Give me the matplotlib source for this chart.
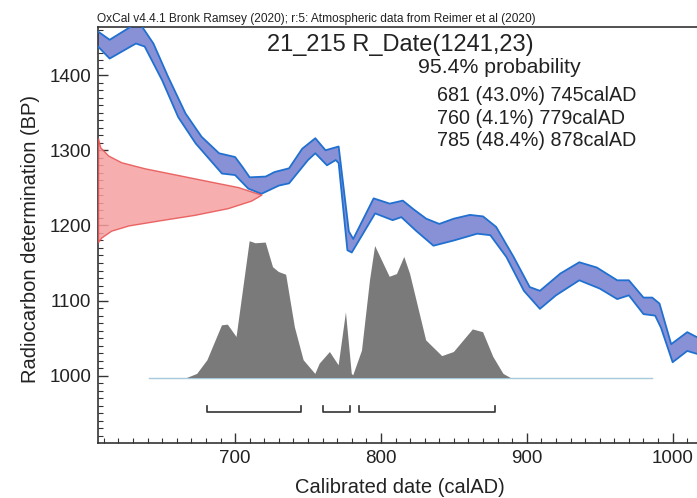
import matplotlib
matplotlib.use('Agg')
import matplotlib.pyplot as plt
from matplotlib.ticker import MultipleLocator
import numpy as np

plt.rcParams['font.family'] = ['Liberation Sans', 'DejaVu Sans']

# calibration curve band (upper / lower edge)
cal_up_year = [606, 614, 629, 636, 644, 654, 666, 677, 689, 700, 705, 710, 721, 727, 737, 746, 755, 762,
               771, 778, 781, 795, 806, 815, 822, 831, 840, 850, 861, 870, 879, 891, 902, 909, 923, 936,
               948, 962, 970, 980, 986, 991, 999, 1010, 1017]
cal_up_bp = [1458, 1447, 1465, 1465, 1442, 1398, 1349, 1318, 1296, 1291, 1278, 1264, 1265, 1271, 1276, 1302, 1316, 1300,
             1305, 1192, 1182, 1236, 1229, 1233, 1222, 1209, 1202, 1209, 1214, 1212, 1198, 1158, 1118, 1113, 1136, 1151,
             1144, 1127, 1127, 1104, 1104, 1096, 1042, 1058, 1051]
cal_lo_year = [606, 614, 632, 638, 650, 661, 673, 691, 700, 709, 718, 730, 737, 750, 755, 763, 769, 771,
               777, 780, 796, 808, 814, 824, 836, 850, 866, 875, 886, 898, 909, 920, 936, 950, 962, 970,
               980, 988, 992, 1000, 1010, 1017]
cal_lo_bp = [1438, 1422, 1442, 1438, 1393, 1344, 1309, 1269, 1267, 1249, 1242, 1253, 1256, 1287, 1296, 1280, 1287, 1283,
             1167, 1164, 1216, 1207, 1211, 1193, 1173, 1180, 1189, 1187, 1158, 1113, 1089, 1107, 1127, 1116, 1102, 1107,
             1082, 1080, 1064, 1018, 1033, 1029]

# radiocarbon date R_Date(1241,23): BP and width of distribution (years)
date_bp = [1316, 1304, 1293, 1284, 1276, 1267, 1258, 1251, 1244, 1241, 1233, 1223, 1214, 1207, 1200, 1193, 1184, 1178]
date_w = [0, 1.5, 7, 16, 32, 55, 78, 96, 107, 112, 105, 89, 66, 43, 21, 9, 2.3, 0]

# calibrated probability (relative)
post_year = [641, 667, 674, 681, 691, 695, 701, 710, 714, 721, 726, 730, 735, 741, 747, 755, 758, 765, 771,
             776, 780, 781, 787, 792.5, 796, 806, 811, 816, 820, 831, 842, 850, 863, 870, 877, 884, 889, 986]
post_p = [0, 0, 0.03, 0.13, 0.385, 0.39, 0.30, 1.0, 0.985, 0.99, 0.81, 0.775, 0.755, 0.37, 0.13, 0.03, 0.105, 0.19, 0.093,
          0.48, 0.03, 0.02, 0.2, 0.715, 0.965, 0.74, 0.76, 0.885, 0.76, 0.275, 0.16, 0.19, 0.355, 0.335, 0.155, 0.03, 0, 0]

# 95.4% ranges
ranges = [(681, 745), (760, 779), (785, 878)]
range_pct = ['43.0%', '4.1%', '48.4%']

fig = plt.figure(figsize=(6.97, 4.98), dpi=100, facecolor='white')
ax = fig.add_axes([0.1406, 0.1104, 0.8594, 0.8354])
ax.set_xlim(606, 1016.7)
ax.set_ylim(910.5, 1464)

# curve band
band_x = cal_up_year + cal_lo_year[::-1]
band_y = cal_up_bp + cal_lo_bp[::-1]
ax.fill(band_x, band_y, facecolor='#8890d6', edgecolor='none', zorder=2)
ax.plot(cal_up_year, cal_up_bp, color='#2070d0', lw=1.3, zorder=3)
ax.plot(cal_lo_year, cal_lo_bp, color='#2070d0', lw=1.3, zorder=3)

# radiocarbon date on y axis
x0 = ax.get_xlim()[0]
ax.fill_betweenx(date_bp, x0, x0 + np.array(date_w), facecolor='#f5a0a0', edgecolor='#e85050',
                 lw=1.0, alpha=0.85, zorder=4)

# posterior
base = 997
scale = 182
ax.fill_between(post_year, base, base + scale * np.array(post_p), facecolor='#7a7a7a', edgecolor='none', zorder=2)
ax.plot([post_year[0], post_year[-1]], [base, base], color='#a8c8dc', lw=1.0, zorder=1)

# range brackets
by = 952
for a, b in ranges:
    ax.plot([a, a, b, b], [by + 8, by, by, by + 8], color='#333333', lw=1.2, zorder=3)

ax.xaxis.set_major_locator(MultipleLocator(100))
ax.xaxis.set_minor_locator(MultipleLocator(10))
ax.yaxis.set_major_locator(MultipleLocator(100))
ax.yaxis.set_minor_locator(MultipleLocator(10))
ax.tick_params(which='major', direction='in', length=7, width=1.0, labelsize=13.5, colors='#333333',
               labelcolor='#222222', pad=5)
ax.tick_params(which='minor', direction='in', length=3.5, width=0.8, colors='#333333')
ax.tick_params(top=False, right=False)
ax.spines['right'].set_visible(False)
for s in ['left', 'bottom', 'top']:
    ax.spines[s].set_color('#333333')
    ax.spines[s].set_linewidth(1.2)

ax.set_xlabel('Calibrated date (calAD)', fontsize=14.5, color='#222222')
ax.set_ylabel('Radiocarbon determination (BP)', fontsize=14.5, color='#222222')
ax.xaxis.set_label_coords(0.504, -0.106)
ax.xaxis.label.set_va('center')
ax.yaxis.set_label_coords(-0.113, 0.49)
ax.yaxis.label.set_va('center')

fig.text(0.139, 0.949, 'OxCal v4.4.1 Bronk Ramsey (2020); r:5: Atmospheric data from Reimer et al (2020)',
         fontsize=8.6, color='#222222', va='bottom')
fig.text(0.574, 0.9096, '21_215 R_Date(1241,23)', fontsize=17, ha='center', va='center', color='#222222')
fig.text(0.5997, 0.8635, '95.4% probability', fontsize=15.3, va='center', color='#222222')
ys = [0.8092, 0.763, 0.7169]
for (a, b), p, yy in zip(ranges, range_pct, ys):
    fig.text(0.627, yy, '%d (%s) %dcalAD' % (a, p, b), fontsize=14.2, va='center', color='#222222')

fig.savefig('out.png', dpi=100, facecolor='white')
